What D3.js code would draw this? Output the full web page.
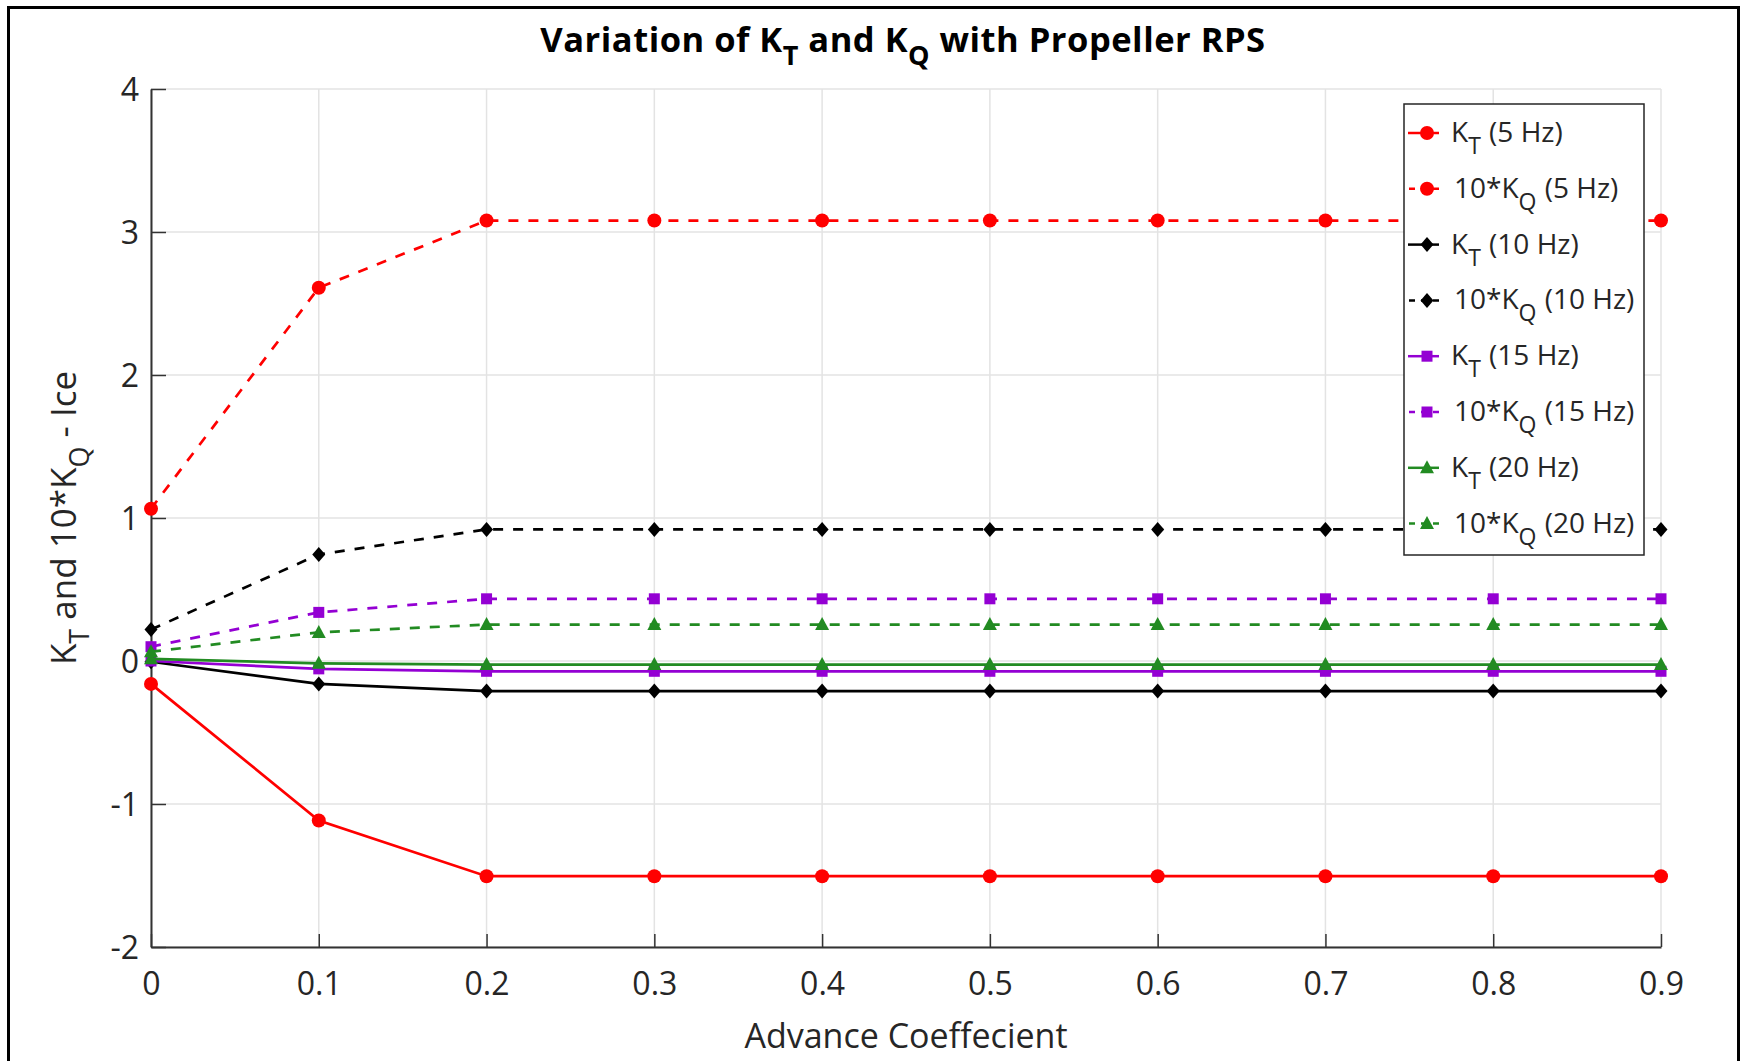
<!DOCTYPE html>
<html>
<head>
<meta charset="utf-8">
<script src="https://cdn.jsdelivr.net/npm/d3@7"></script>
<style>
  body { margin: 0; background: #fff; }
  svg { display: block; font-family: "Open Sans", "Noto Sans", sans-serif; }
</style>
</head>
<body>
<div id="chart"></div>
<script>
// advance coefficient J
var advance = [0, 0.1, 0.2, 0.3, 0.4, 0.5, 0.6, 0.7, 0.8, 0.9];
var xTicks = [0, 0.1, 0.2, 0.3, 0.4, 0.5, 0.6, 0.7, 0.8, 0.9];
var yTicks = [-2, -1, 0, 1, 2, 3, 4];

// values
var kt5   = [-0.16, -1.115, -1.505, -1.505, -1.505, -1.505, -1.505, -1.505, -1.505, -1.505];
var kq5   = [1.065, 2.61, 3.08, 3.08, 3.08, 3.08, 3.08, 3.08, 3.08, 3.08];
var kt10  = [-0.005, -0.16, -0.21, -0.21, -0.21, -0.21, -0.21, -0.21, -0.21, -0.21];
var kq10  = [0.22, 0.745, 0.92, 0.92, 0.92, 0.92, 0.92, 0.92, 0.92, 0.92];
var kt15  = [0.0, -0.055, -0.072, -0.072, -0.072, -0.072, -0.072, -0.072, -0.072, -0.072];
var kq15  = [0.1, 0.34, 0.435, 0.435, 0.435, 0.435, 0.435, 0.435, 0.435, 0.435];
var kt20  = [0.015, -0.016, -0.025, -0.025, -0.025, -0.025, -0.025, -0.025, -0.025, -0.025];
var kq20  = [0.065, 0.2, 0.255, 0.255, 0.255, 0.255, 0.255, 0.255, 0.255, 0.255];

var seriesNames = ["KT5", "KQ5", "KT10", "KQ10", "KT15", "KQ15", "KT20", "KQ20"];
var seriesVals = [kt5, kq5, kt10, kq10, kt15, kq15, kt20, kq20];
var legendMain = ["K", "10*K", "K", "10*K", "K", "10*K", "K", "10*K"];
var legendSub = ["T", "Q", "T", "Q", "T", "Q", "T", "Q"];
var legendTail = ["(5 Hz)", "(5 Hz)", "(10 Hz)", "(10 Hz)", "(15 Hz)", "(15 Hz)", "(20 Hz)", "(20 Hz)"];

var W = 1742, H = 1061;
var m = { left: 151, right: 1661, top: 89, bottom: 947 };

var styles = [
  { color: "#ff0000", dash: null, marker: "circle" },
  { color: "#ff0000", dash: "10,10", marker: "circle" },
  { color: "#000000", dash: null, marker: "diamond" },
  { color: "#000000", dash: "10,10", marker: "diamond" },
  { color: "#9400d3", dash: null, marker: "square" },
  { color: "#9400d3", dash: "10,10", marker: "square" },
  { color: "#228b22", dash: null, marker: "triangle" },
  { color: "#228b22", dash: "10,10", marker: "triangle" }
];

function markerPath(type) {
  switch (type) {
    case "circle": return "M7,0A7,7 0 1,1 -7,0A7,7 0 1,1 7,0Z";
    case "diamond": return "M0,-7.5L6.5,0L0,7.5L-6.5,0Z";
    case "square": return "M-5.5,-5.5L5.5,-5.5L5.5,5.5L-5.5,5.5Z";
    case "triangle": return "M0,-7.5L7,5.5L-7,5.5Z";
  }
}

var svg = d3.select("#chart").append("svg")
  .attr("width", W).attr("height", H);

svg.append("rect").attr("width", W).attr("height", H).attr("fill", "#fff");

// outer frame (no bottom edge visible)
svg.append("path")
  .attr("d", "M8.5," + (H + 5) + "V7.5H1738.5V" + (H + 5))
  .attr("fill", "none").attr("stroke", "#000").attr("stroke-width", 3);

var x = d3.scaleLinear().domain([0, 0.9]).range([m.left, m.right]);
var y = d3.scaleLinear().domain([-2, 4]).range([m.bottom, m.top]);

// grid
var grid = svg.append("g").attr("class", "grid");
grid.selectAll(".gx").data(xTicks).enter().append("line")
  .attr("x1", function(d) { return x(d); }).attr("x2", function(d) { return x(d); })
  .attr("y1", m.top).attr("y2", m.bottom)
  .attr("stroke", "#e3e3e3").attr("stroke-width", 1.5);
grid.selectAll(".gy").data(yTicks).enter().append("line")
  .attr("y1", function(d) { return y(d); }).attr("y2", function(d) { return y(d); })
  .attr("x1", m.left).attr("x2", m.right)
  .attr("stroke", "#e3e3e3").attr("stroke-width", 1.5);

// axes
var xAxis = svg.append("g")
  .attr("transform", "translate(0," + m.bottom + ")")
  .call(d3.axisBottom(x).tickValues(xTicks).tickSizeInner(-13).tickSizeOuter(0).tickPadding(25)
    .tickFormat(function(d) { return d === 0 ? "0" : d3.format(".1f")(d); }));
var yAxis = svg.append("g")
  .attr("transform", "translate(" + m.left + ",0)")
  .call(d3.axisLeft(y).tickValues(yTicks).tickSizeInner(-15).tickSizeOuter(0).tickPadding(12)
    .tickFormat(function(d) { return String(d); }));

[xAxis, yAxis].forEach(function(a) {
  a.select(".domain").attr("stroke", "#333").attr("stroke-width", 2);
  a.selectAll(".tick line").attr("stroke", "#333").attr("stroke-width", 1.5);
  a.selectAll(".tick text").attr("fill", "#262626").style("font-size", "32px")
    .style("font-family", "'Open Sans', sans-serif");
});
xAxis.selectAll(".tick text").attr("dy", "0.71em");
yAxis.selectAll(".tick text").attr("dy", "0.36em");

// series
var line = d3.line()
  .x(function(d, i) { return x(advance[i]); })
  .y(function(d) { return y(d); });

var plot = svg.append("g").attr("class", "series");
seriesVals.forEach(function(vals, k) {
  var st = styles[k];
  var g = plot.append("g").attr("class", "s-" + seriesNames[k]);
  g.append("path")
    .datum(vals)
    .attr("d", line)
    .attr("fill", "none")
    .attr("stroke", st.color)
    .attr("stroke-width", 2.7)
    .attr("stroke-dasharray", st.dash);
  g.selectAll(".mk").data(vals).enter().append("path")
    .attr("d", markerPath(st.marker))
    .attr("transform", function(d, i) { return "translate(" + x(advance[i]) + "," + y(d) + ")"; })
    .attr("fill", st.color);
});

// legend
var lg = svg.append("g").attr("transform", "translate(1404,104)");
lg.append("rect").attr("width", 240).attr("height", 451)
  .attr("fill", "#fff").attr("stroke", "#262626").attr("stroke-width", 1.5);

seriesNames.forEach(function(nm, i) {
  var st = styles[i];
  var cy = 29 + i * 55.8;
  var row = lg.append("g").attr("transform", "translate(0," + cy + ")");
  row.append("line").attr("x1", 4).attr("x2", 35).attr("y1", 0).attr("y2", 0)
    .attr("stroke", st.color).attr("stroke-width", 2.5)
    .attr("stroke-dasharray", st.dash ? "6,6" : null)
    .attr("stroke-dashoffset", st.dash ? -1 : null);
  row.append("path").attr("d", markerPath(st.marker))
    .attr("transform", "translate(23,0)").attr("fill", st.color);
  var t = row.append("text").attr("x", st.dash ? 50 : 47).attr("y", 9)
    .attr("fill", "#262626").style("font-size", "28px");
  t.append("tspan").text(legendMain[i]);
  t.append("tspan").attr("dy", 12).style("font-size", "23px").text(legendSub[i]);
  t.append("tspan").attr("dy", -12).attr("dx", 1).text("\u00a0" + legendTail[i]);
});

// title
var title = svg.append("text")
  .attr("x", 903).attr("y", 52)
  .attr("text-anchor", "middle")
  .style("font-size", "34.5px").style("font-weight", "bold")
  .style("letter-spacing", "0.5px").attr("fill", "#000");
title.append("tspan").text("Variation of K");
title.append("tspan").attr("dy", 13).style("font-size", "27px").text("T");
title.append("tspan").attr("dy", -13).text(" and K");
title.append("tspan").attr("dy", 13).style("font-size", "27px").text("Q");
title.append("tspan").attr("dy", -13).text(" with Propeller RPS");

// x label
svg.append("text")
  .attr("x", (m.left + m.right) / 2).attr("y", 1048)
  .attr("text-anchor", "middle")
  .attr("fill", "#262626")
  .style("font-size", "34px")
  .text("Advance Coeffecient");

// y label
var yl = svg.append("text")
  .attr("transform", "translate(76," + ((m.top + m.bottom) / 2) + ") rotate(-90)")
  .attr("text-anchor", "middle")
  .attr("fill", "#262626")
  .style("font-size", "35px");
yl.append("tspan").text("K");
yl.append("tspan").attr("dy", 13).style("font-size", "27px").text("T");
yl.append("tspan").attr("dy", -13).text(" and 10*K");
yl.append("tspan").attr("dy", 13).style("font-size", "27px").text("Q");
yl.append("tspan").attr("dy", -13).text(" - Ice");
</script>
</body>
</html>
